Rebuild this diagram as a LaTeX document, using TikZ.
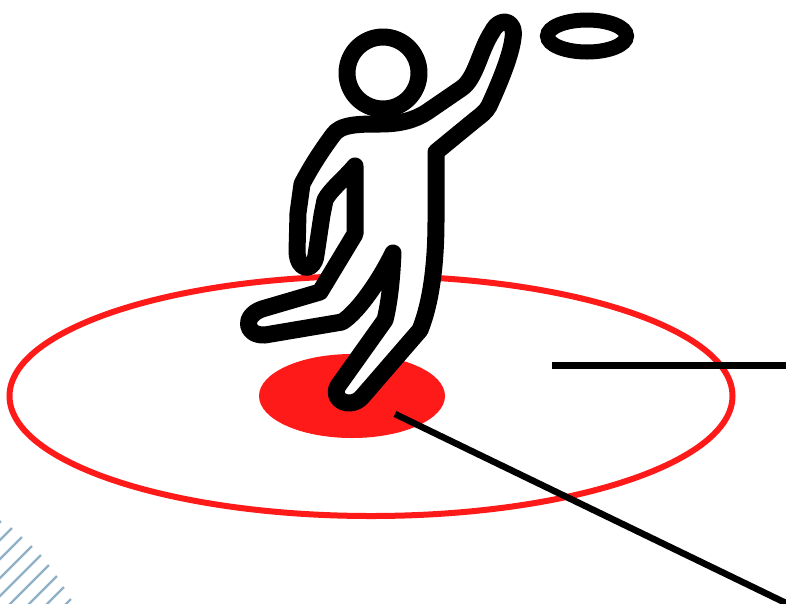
\documentclass[tikz,border=0pt]{standalone}
\usepackage{xcolor}
\definecolor{ringred}{HTML}{FF1A1A}
\definecolor{hatchblue}{HTML}{8FB1C8}
\tikzset{
    ring/.style={draw=ringred,line width=6pt},
    spot/.style={fill=ringred},
    pointer/.style={draw=black,line width=6.5pt},
    hatchline/.style={draw=hatchblue,line width=2.2pt},
    figure/.style={draw=black,fill=white,line width=17pt,line join=round}
}
\begin{document}
\begin{tikzpicture}[x=1pt,y=-1pt]
    \useasboundingbox (0,0) rectangle (786,603);

    % Hatching
    \begin{scope}
        \clip (0,0) rectangle (786,603);
        \foreach \x/\y in {1/521,12/528,22/537,32/546,41/555,49/565,57/576,64/587,71/599} {
            \draw[hatchline] (\x,\y) -- ++(-90,90);
        }
    \end{scope}

    % Rings
    \draw[ring] (371,396) ellipse [x radius=361.5, y radius=120];
    \fill[spot] (352,396) ellipse [x radius=93, y radius=42];

    % Pointer lines
    \draw[pointer,line width=7pt] (552,365.5) -- (790,365.5);
    \draw[pointer] (395,414) -- (790,605);

    % Thrower
    \draw[figure] (355,166)
        .. controls (345,178) and (330,190) .. (325,200)
        -- (322,215) -- (316,255)
        .. controls (314,272) and (298,272) .. (297,252)
        -- (298,213) -- (302,184)
        .. controls (312,165) and (322,150) .. (333,135)
        .. controls (340,124) and (360,124) .. (380,124)
        .. controls (400,124) and (415,120) .. (427,112)
        -- (462,88)
        .. controls (476,78) and (480,50) .. (492,32)
        .. controls (500,16) and (516,20) .. (513,38)
        .. controls (511,55) and (500,82) .. (489,106)
        .. controls (486,112) and (480,116) .. (475,120)
        -- (436,152)
        -- (436,220)
        .. controls (436,260) and (432,300) .. (420,330)
        -- (362,397)
        .. controls (350,410) and (330,400) .. (338,386)
        -- (385,320)
        .. controls (390,300) and (392,275) .. (393,253)
        .. controls (380,280) and (358,312) .. (342,322)
        -- (265,335)
        .. controls (245,336) and (242,316) .. (262,309)
        -- (320,292)
        -- (355,234)
        -- cycle;
    \draw[figure,fill=none] (383,73) circle [radius=36];

    % Disc
    \draw[draw=black,line width=15pt] (587,36) ellipse [x radius=39.5, y radius=16];
\end{tikzpicture}
\end{document}
